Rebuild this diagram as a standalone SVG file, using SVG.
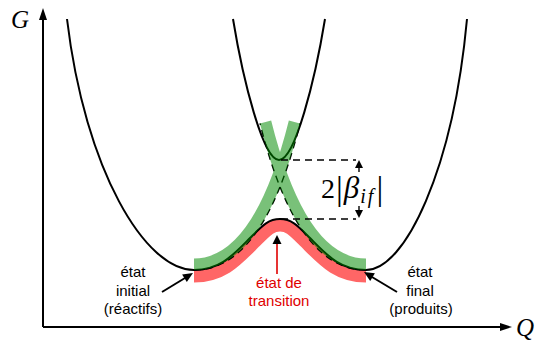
<svg xmlns="http://www.w3.org/2000/svg" width="535" height="345" viewBox="0 0 535 345">
<style>
.curve{fill:none;stroke:#000;stroke-width:2}
.dash{fill:none;stroke:#000;stroke-width:1.4;stroke-dasharray:7 5}
.lbl{font-family:"Liberation Sans",Arial,sans-serif;font-size:15px;text-anchor:middle;fill:#000}
.red{fill:#e00000}
.math{font-family:"Liberation Serif","Times New Roman",serif}
</style>
<defs>
<clipPath id="clipA"><path d="M194,270 C240,270 275,223.2 300,123.4 L300,90 L180,90 L180,270 Z"/></clipPath>
<clipPath id="clipB"><path d="M366,270 C320,270 285,223.2 260,123.4 L260,90 L380,90 L380,270 Z"/></clipPath>
<clipPath id="clipR"><path d="M194,270 C220,270 232,256 250,238 C262,226 268,219 280,219 C292,219 298,226 310,238 C328,256 340,270 366,270 L366,300 L194,300 Z"/></clipPath>
</defs>
<rect width="535" height="345" fill="#fff"/>
<g id="axes">
<line x1="43" y1="327" x2="43" y2="18" stroke="#000" stroke-width="2"/>
<polygon points="43,8 39,20 47,20" fill="#000"/>
<line x1="43" y1="327" x2="502" y2="327" stroke="#000" stroke-width="2"/>
<polygon points="512,327 500,323 500,331" fill="#000"/>
<text class="math" x="11" y="28" font-size="25" font-style="italic">G</text>
<text class="math" x="516" y="336" font-size="25" font-style="italic">Q</text>
</g>
<g id="red-band">
<path clip-path="url(#clipR)" d="M194,270 C220,270 232,256 250,238 C262,226 268,219 280,219 C292,219 298,226 310,238 C328,256 340,270 366,270" fill="none" stroke="#ff6666" stroke-width="25"/>
</g>
<g id="diabats">
<path class="dash" d="M194,270 C240,270 275,223.2 300,123.4"/>
<path class="dash" d="M366,270 C320,270 285,223.2 260,123.4"/>
</g>
<g id="adiabats">
<path class="curve" d="M67,19 C85,170 145,270 194,270 C220,270 232,256 250,238 C262,226 268,219 280,219 C292,219 298,226 310,238 C328,256 340,270 366,270 C405,270 453,170 467,19"/>
<path class="curve" d="M233,19 C243,80 263,160 279,160 C295,160 315,80 325,19"/>
</g>
<g id="green-bands" opacity="0.52">
<path clip-path="url(#clipA)" d="M194,270 C240,270 275,223.2 300,123.4" fill="none" stroke="#008a00" stroke-width="23"/>
<path clip-path="url(#clipB)" d="M366,270 C320,270 285,223.2 260,123.4" fill="none" stroke="#008a00" stroke-width="23"/>
</g>
<g id="coupling">
<line class="dash" x1="281" y1="160" x2="356" y2="160"/>
<line class="dash" x1="281" y1="219" x2="356" y2="219"/>
<line x1="359" y1="166" x2="359" y2="172" stroke="#000" stroke-width="1.4"/>
<polygon points="359,160 355,168 363,168" fill="#000"/>
<line x1="359" y1="206" x2="359" y2="212" stroke="#000" stroke-width="1.4"/>
<polygon points="359,218 355,210 363,210" fill="#000"/>
<text class="math" x="321" y="198" font-size="28">2<tspan font-size="34" dy="2" dx="1">|</tspan><tspan font-style="italic" font-size="31" dy="-2" dx="1">β</tspan><tspan font-style="italic" font-size="20" dy="5" dx="1" letter-spacing="2">if</tspan><tspan font-size="34" dy="-3" dx="1">|</tspan></text>
</g>
<g id="initial">
<text class="lbl" x="133" y="277">état</text>
<text class="lbl" x="133" y="295.5">initial</text>
<text class="lbl" x="133" y="314">(réactifs)</text>
<line x1="162" y1="292" x2="185" y2="278" stroke="#000" stroke-width="2"/>
<polygon points="193,273 186.8,282.1 182.1,274.4" fill="#000"/>
</g>
<g id="transition">
<text class="lbl red" x="279" y="288">état de</text>
<text class="lbl red" x="279" y="306">transition</text>
<line x1="277" y1="274" x2="277" y2="242" stroke="#e00000" stroke-width="1.6"/>
<polygon points="277,235 272.5,244 281.5,244" fill="#000"/>
</g>
<g id="final">
<text class="lbl" x="420" y="277">état</text>
<text class="lbl" x="420" y="295.5">final</text>
<text class="lbl" x="421" y="314">(produits)</text>
<line x1="397" y1="292" x2="372" y2="277" stroke="#000" stroke-width="2"/>
<polygon points="364,272 374.9,273.3 370.2,281" fill="#000"/>
</g>
</svg>
